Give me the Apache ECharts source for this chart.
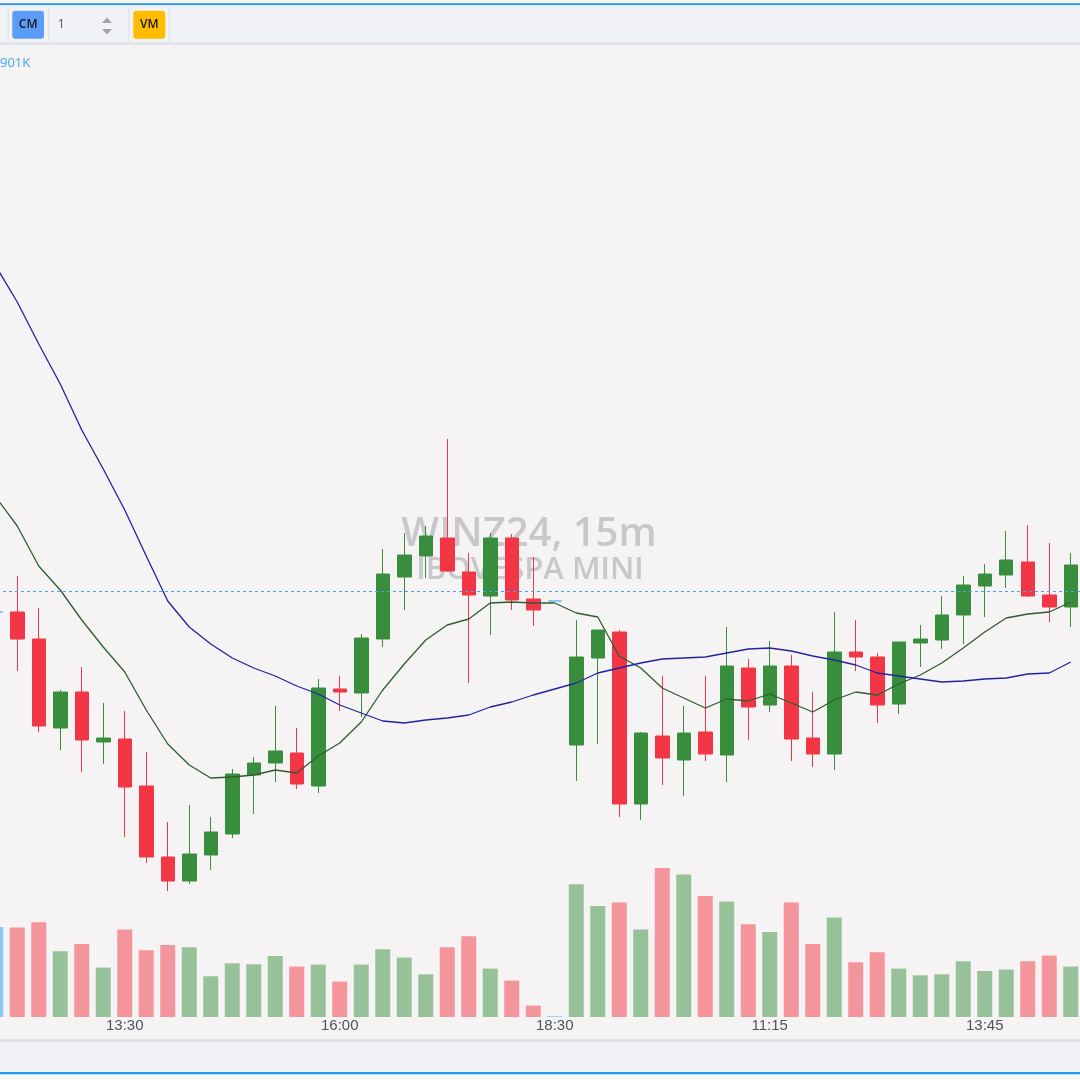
<!DOCTYPE html>
<html>
<head>
<meta charset="utf-8">
<script src="https://cdn.jsdelivr.net/npm/echarts@6/dist/echarts.min.js"></script>
<style>
html,body{margin:0;padding:0;background:#f5f3f4;}
#chart{width:1080px;height:1080px;}
</style>
</head>
<body>
<div id="chart"></div>
<script>
// ---- DATA ----
const categories = [
 '28/11 12:00','28/11 12:15','28/11 12:30','28/11 12:45','28/11 13:00','28/11 13:15','28/11 13:30','28/11 13:45',
 '28/11 14:00','28/11 14:15','28/11 14:30','28/11 14:45','28/11 15:00','28/11 15:15','28/11 15:30','28/11 15:45',
 '28/11 16:00','28/11 16:15','28/11 16:30','28/11 16:45','28/11 17:00','28/11 17:15','28/11 17:30','28/11 17:45',
 '28/11 18:00','28/11 18:15','28/11 18:30',
 '29/11 09:00','29/11 09:15','29/11 09:30','29/11 09:45','29/11 10:00','29/11 10:15','29/11 10:30','29/11 10:45',
 '29/11 11:00','29/11 11:15','29/11 11:30','29/11 11:45','29/11 12:00','29/11 12:15','29/11 12:30','29/11 12:45',
 '29/11 13:00','29/11 13:15','29/11 13:30','29/11 13:45','29/11 14:00','29/11 14:15','29/11 14:30','29/11 14:45'
];
const tickLabels = ['28/11 13:30','28/11 16:00','28/11 18:30','29/11 11:15','29/11 13:45'];

const opens  = [128940,128940,128805,128360,128540,128290,128305,128070,127715,127595,127725,127830,128125,128185,128235,128070,128555,128535,128805,129115,129220,129310,129140,129020,129310,129005,128995,
                128275,128710,128840,127980,128320,128200,128340,128225,128660,128475,128670,128310,128230,128740,128715,128480,128785,128800,128925,129070,129125,129190,129025,128965];
const closes = [128940,128805,128370,128540,128300,128310,128065,127715,127595,127730,127840,128130,128185,128245,128080,128560,128540,128810,129130,129225,129320,129145,129025,129310,129000,128950,128995,
                128715,128850,127980,128335,128210,128335,128230,128670,128465,128670,128305,128230,128740,128715,128475,128790,128805,128925,129075,129130,129200,129020,128965,129175];
const lows   = [128940,128645,128340,128250,128140,128180,127815,127685,127545,127580,127650,127810,127930,128090,128055,128035,128445,128415,128765,128950,129110,129140,128585,128825,128950,128870,128995,
                128095,128280,127915,127900,128075,128020,128195,128090,128300,128440,128195,128165,128150,128645,128385,128430,128665,128755,128780,128915,129060,129015,128890,128865];
const highs  = [128940,129120,128960,128550,128665,128485,128445,128240,127890,127975,127915,128155,128215,128470,128360,128605,128620,128830,129255,129335,129370,129805,129235,129335,129330,129215,128995,
                128900,128850,128850,128340,128620,128470,128620,128865,128705,128795,128725,128540,128940,128900,128735,128790,128875,129020,129120,129180,129345,129375,129285,129235];
const volumes = [901000,894000,947000,657000,730000,494000,874000,667000,720000,697000,407000,537000,527000,610000,504000,524000,354000,524000,677000,594000,427000,697000,807000,484000,364000,114000,8000,
                 1327000,1110000,1144000,874000,1490000,1424000,1210000,1154000,927000,850000,1144000,730000,994000,547000,647000,484000,417000,427000,557000,460000,474000,557000,614000,504000];
const maFast = [129515,129370,129170,129050,128900,128765,128640,128450,128280,128175,128110,128115,128125,128150,128135,128220,128285,128390,128550,128680,128800,128875,128905,128985,128990,128985,128985,
                128935,128915,128720,128660,128560,128510,128460,128505,128495,128530,128485,128440,128500,128540,128525,128580,128625,128685,128760,128840,128910,128930,128940,128990];
const maSlow = [130670,130490,130280,130080,129850,129655,129450,129220,128995,128865,128780,128710,128660,128620,128570,128530,128475,128435,128395,128385,128400,128410,128425,128465,128490,128525,128555,
                128585,128635,128660,128685,128705,128710,128715,128735,128755,128760,128745,128720,128700,128675,128635,128620,128605,128590,128595,128605,128610,128630,128635,128690];
const refPrice = 129045;
const symbolTitle = 'WINZ24, 15m';
const symbolName = 'IBOVESPA MINI';
const volumeLegend = '901K';

// ---- STYLE ----
const UP = '#388e3c', DOWN = '#f23645', FLAT = '#64b5f6';
const UPV = '#97c199', DOWNV = '#f4959b', FLATV = '#88c9f6';

const candleData = opens.map((o, i) => {
  const c = closes[i];
  const item = { value: [o, c, lows[i], highs[i]] };
  if (o === c && lows[i] === highs[i]) item.itemStyle = { color: FLAT, color0: FLAT, borderColor: FLAT, borderColor0: FLAT };
  return item;
});
const volData = volumes.map((v, i) => {
  const o = opens[i], c = closes[i];
  const col = c > o ? UPV : (c < o ? DOWNV : FLATV);
  return { value: v, itemStyle: { color: col } };
});

const chart = echarts.init(document.getElementById('chart'), null, { renderer: 'canvas' });
const option = {
  animation: false,
  backgroundColor: '#f5f3f4',
  grid: [
    { left: -15, right: -1.5, top: 40, bottom: 60, outerBoundsMode: 'none', containLabel: false },
    { left: -15, right: -1.5, top: 817, bottom: 63, outerBoundsMode: 'none', containLabel: false }
  ],
  xAxis: [
    { type: 'category', gridIndex: 0, data: categories, boundaryGap: true,
      axisLine: { show: false }, axisTick: { show: false }, axisLabel: { show: false }, splitLine: { show: false } },
    { type: 'category', gridIndex: 1, data: categories, boundaryGap: true,
      axisLine: { show: false }, axisTick: { show: false }, splitLine: { show: false },
      axisLabel: {
        show: true, margin: 1, fontSize: 15, color: '#50535e', fontFamily: 'Liberation Sans, Arial, sans-serif',
        interval: (idx, val) => tickLabels.indexOf(val) >= 0,
        formatter: (val) => val.split(' ')[1]
      } }
  ],
  yAxis: [
    { type: 'value', gridIndex: 0, min: 126900, max: 131800, show: false, splitLine: { show: false } },
    { type: 'value', gridIndex: 1, min: 0, max: 2000000, show: false, splitLine: { show: false } }
  ],
  series: [
    { type: 'bar', xAxisIndex: 1, yAxisIndex: 1, data: volData, barWidth: 15, z: 1 },
    { type: 'candlestick', xAxisIndex: 0, yAxisIndex: 0, data: candleData, barWidth: 14, z: 3,
      itemStyle: { color: UP, color0: DOWN, borderColor: UP, borderColor0: DOWN, borderWidth: 1 },
      markLine: { silent: true, symbol: ['none', 'none'], label: { show: false },
        lineStyle: { color: '#42a5f5', type: [3, 3], width: 1 },
        data: [{ yAxis: refPrice }] } },
    { type: 'line', xAxisIndex: 0, yAxisIndex: 0, data: maFast, symbol: 'none', z: 4,
      lineStyle: { color: '#2f5d31', width: 1.3 } },
    { type: 'line', xAxisIndex: 0, yAxisIndex: 0, data: maSlow, symbol: 'none', z: 4,
      lineStyle: { color: '#2323a0', width: 1.3 } }
  ],
  graphic: [
    // watermark
    { type: 'text', z: 0, silent: true, x: 529, y: 535, style: { text: symbolTitle, textAlign: 'center', textVerticalAlign: 'middle',
      font: '600 40px "Open Sans", sans-serif', fill: '#c9c7cb' } },
    { type: 'text', z: 0, silent: true, x: 530, y: 570, style: { text: symbolName, textAlign: 'center', textVerticalAlign: 'middle',
      font: '600 31px "Open Sans", sans-serif', fill: '#c9c7cb' } },
    // top toolbar
    { type: 'rect', z: 100, shape: { x: 0, y: 0, width: 1080, height: 3.3 }, style: { fill: '#f7f7f8' } },
    { type: 'rect', z: 100, shape: { x: 0, y: 3.3, width: 1080, height: 2 }, style: { fill: '#2196f3' } },
    { type: 'rect', z: 100, shape: { x: 0, y: 5.3, width: 1080, height: 37 }, style: { fill: '#f1f2f6' } },
    { type: 'rect', z: 100, shape: { x: 0, y: 42.3, width: 1080, height: 2.7 }, style: { fill: '#e1e3e9' } },
    { type: 'rect', z: 101, shape: { x: 7.5, y: 8, width: 1.5, height: 34 }, style: { fill: '#e3e5ea' } },
    { type: 'rect', z: 101, shape: { x: 47.8, y: 8, width: 1.5, height: 34 }, style: { fill: '#e3e5ea' } },
    { type: 'rect', z: 101, shape: { x: 128, y: 8, width: 1.5, height: 34 }, style: { fill: '#e3e5ea' } },
    { type: 'rect', z: 101, shape: { x: 168.3, y: 8, width: 1.5, height: 34 }, style: { fill: '#e3e5ea' } },
    { type: 'rect', z: 101, shape: { x: 12.3, y: 10.7, width: 31.7, height: 28, r: 3 }, style: { fill: '#5b9cf6' } },
    { type: 'text', z: 102, x: 28.2, y: 25, style: { text: 'CM', textAlign: 'center', textVerticalAlign: 'middle',
      font: '600 12px "Open Sans", sans-serif', fill: '#17171f' } },
    { type: 'text', z: 102, x: 57.5, y: 24.5, style: { text: '1', textAlign: 'left', textVerticalAlign: 'middle',
      font: '13px "Open Sans", sans-serif', fill: '#555860' } },
    { type: 'polygon', z: 102, shape: { points: [[102, 23], [107, 17.5], [112, 23]] }, style: { fill: '#a2a3a8' } },
    { type: 'polygon', z: 102, shape: { points: [[102, 29], [112, 29], [107, 34.5]] }, style: { fill: '#a2a3a8' } },
    { type: 'rect', z: 101, shape: { x: 133.3, y: 10.7, width: 32, height: 28, r: 3 }, style: { fill: '#ffbc00' } },
    { type: 'text', z: 102, x: 149.3, y: 25, style: { text: 'VM', textAlign: 'center', textVerticalAlign: 'middle',
      font: '600 12px "Open Sans", sans-serif', fill: '#17171f' } },
    { type: 'text', z: 102, x: 0, y: 63.5, style: { text: volumeLegend, textAlign: 'left', textVerticalAlign: 'middle',
      font: '13px "Open Sans", sans-serif', fill: '#42a5f5' } },
    // bottom bar
    { type: 'rect', z: 100, shape: { x: 0, y: 1039, width: 1080, height: 3 }, style: { fill: '#e0e3ea' } },
    { type: 'rect', z: 100, shape: { x: 0, y: 1042, width: 1080, height: 30 }, style: { fill: '#f1f2f6' } },
    { type: 'rect', z: 100, shape: { x: 0, y: 1072, width: 1080, height: 2.5 }, style: { fill: '#2196f3' } },
    { type: 'rect', z: 100, shape: { x: 0, y: 1074.5, width: 1080, height: 5.5 }, style: { fill: '#f7f7f8' } }
  ]
};
chart.setOption(option);
</script>
</body>
</html>
